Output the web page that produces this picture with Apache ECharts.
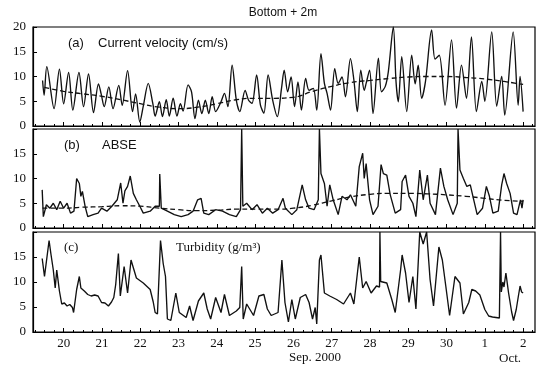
<!DOCTYPE html>
<html><head><meta charset="utf-8">
<script src="https://cdn.jsdelivr.net/npm/echarts@6/dist/echarts.min.js"></script>
<style>html,body{margin:0;padding:0;background:#fff}#c{width:540px;height:375px}</style>
</head><body><div id="c"></div>
<script>
// x values are days of September 2000 (31 = Oct 1, 32 = Oct 2)
const dayTicks = [20,21,22,23,24,25,26,27,28,29,30,31,32];
const yTicks = [0,5,10,15,20];

const velocity = [
[19.45,9.2],[19.49,6.2],[19.56,12.0],[19.75,3.5],[19.89,11.5],[20.0,4.5],[20.13,10.8],[20.24,3.2],[20.4,10.8],[20.52,3.9],[20.65,10.5],[20.78,2.7],[20.91,8.5],[20.98,6.5],[21.06,3.9],[21.18,7.9],[21.29,3.5],[21.44,8.2],[21.53,4.2],[21.67,11.2],[21.8,2.9],[21.88,6.5],[21.99,0.8],[22.08,4.0],[22.21,8.6],[22.33,4.5],[22.39,2.0],[22.5,4.9],[22.58,1.9],[22.68,5.3],[22.76,2.0],[22.86,5.6],[22.96,2.0],[23.05,4.5],[23.12,3.0],[23.25,8.3],[23.34,6.9],[23.43,1.5],[23.52,5.2],[23.61,2.5],[23.7,5.2],[23.79,2.5],[23.88,5.9],[23.97,2.9],[24.11,4.9],[24.2,6.6],[24.29,3.9],[24.4,12.3],[24.51,5.2],[24.6,2.9],[24.74,7.2],[24.83,5.2],[24.92,4.6],[25.04,10.3],[25.14,4.2],[25.23,2.6],[25.34,10.3],[25.46,5.2],[25.58,1.9],[25.69,7.6],[25.76,11.3],[25.85,6.9],[25.94,9.9],[26.03,3.9],[26.12,8.9],[26.21,3.2],[26.32,9.6],[26.41,7.2],[26.52,7.6],[26.61,3.2],[26.72,14.6],[26.81,8.6],[26.88,6.6],[26.97,3.2],[27.08,11.6],[27.17,8.6],[27.27,9.9],[27.36,5.9],[27.49,13.6],[27.58,9.3],[27.67,2.9],[27.76,11.3],[27.85,7.2],[27.9,8.6],[27.99,11.3],[28.08,2.5],[28.22,13.7],[28.3,6.9],[28.4,8.0],[28.48,11.0],[28.61,20.0],[28.68,9.0],[28.74,4.9],[28.83,14.0],[28.96,2.9],[29.09,14.3],[29.18,8.5],[29.22,10.3],[29.26,12.3],[29.35,5.6],[29.45,9.0],[29.61,19.4],[29.7,13.5],[29.81,14.3],[29.96,4.2],[30.13,17.4],[30.26,3.6],[30.39,12.3],[30.52,5.6],[30.65,18.0],[30.78,2.9],[30.92,9.0],[31.0,5.0],[31.18,19.0],[31.31,4.0],[31.44,10.0],[31.52,2.2],[31.74,19.0],[31.87,4.2],[31.92,10.0],[32.0,2.9]
];
const velocityTrend = [
[19.5,7.8],[20,7.0],[20.5,6.5],[21,6.0],[21.5,5.3],[22,4.5],[22.5,3.8],[23,3.5],[23.5,3.8],[24,4.5],[24.5,5.3],[25,5.6],[25.5,5.6],[26,5.8],[26.5,7.0],[27,8.0],[27.5,8.8],[28,9.2],[28.5,9.6],[29,9.9],[29.5,10.0],[30,10.0],[30.5,9.8],[31,9.5],[31.5,9.0],[32,8.4]
];
const abse = [
[19.44,7.7],[19.47,2.3],[19.55,4.7],[19.64,4.0],[19.73,5.0],[19.82,3.7],[19.91,5.4],[20.0,4.0],[20.09,5.0],[20.18,3.0],[20.27,3.4],[20.34,10.0],[20.41,9.0],[20.45,6.4],[20.49,7.4],[20.56,4.4],[20.63,2.3],[20.77,2.7],[20.9,3.0],[20.99,4.0],[21.13,3.4],[21.26,4.4],[21.4,5.7],[21.49,9.1],[21.55,5.0],[21.6,7.5],[21.67,8.4],[21.74,10.5],[21.82,7.0],[21.9,5.7],[21.99,4.4],[22.08,3.0],[22.26,3.4],[22.39,4.4],[22.5,4.4],[22.51,10.9],[22.55,4.0],[22.71,3.4],[22.89,2.7],[23.07,2.3],[23.25,2.7],[23.38,3.4],[23.5,5.7],[23.59,6.0],[23.66,3.0],[23.79,2.7],[23.97,3.7],[24.15,3.4],[24.33,2.7],[24.51,2.3],[24.62,3.7],[24.65,20],[24.68,4.4],[24.78,5.0],[24.92,3.7],[25.05,4.7],[25.19,3.0],[25.32,4.0],[25.46,3.0],[25.6,3.7],[25.73,6.0],[25.79,4.0],[25.96,2.7],[26.09,3.7],[26.23,8.7],[26.32,5.7],[26.41,4.0],[26.54,3.7],[26.65,5.7],[26.68,20],[26.72,11.0],[26.81,9.0],[26.88,4.4],[26.95,8.7],[27.04,5.7],[27.17,2.7],[27.27,6.4],[27.4,5.7],[27.49,6.7],[27.63,4.4],[27.72,12.4],[27.81,15.1],[27.85,10.0],[27.9,13.0],[27.99,5.7],[28.08,2.7],[28.21,4.4],[28.29,12.8],[28.35,11.0],[28.44,10.7],[28.53,6.7],[28.66,3.0],[28.8,3.7],[28.84,9.4],[28.93,10.7],[29.02,6.4],[29.12,5.0],[29.2,2.3],[29.3,11.7],[29.39,5.7],[29.5,10.7],[29.57,5.0],[29.71,2.7],[29.84,12.1],[29.93,8.4],[30.03,5.7],[30.17,2.7],[30.28,5.0],[30.3,20],[30.35,11.7],[30.44,10.0],[30.53,8.4],[30.62,8.7],[30.71,5.7],[30.8,2.7],[30.94,4.0],[31.04,8.4],[31.12,6.4],[31.21,3.0],[31.35,3.4],[31.44,8.7],[31.5,11.0],[31.57,9.0],[31.66,7.0],[31.75,3.0],[31.84,2.7],[31.93,5.7],[31.97,4.0],[32.0,5.7]
];
const abseTrend = [
[19.45,4.0],[20,4.0],[20.5,4.2],[21,4.3],[21.5,4.5],[22,4.4],[22.5,4.0],[23,3.7],[23.5,3.5],[24,3.6],[24.5,3.8],[25,3.8],[25.5,3.8],[26,4.0],[26.5,4.6],[27,5.5],[27.5,6.3],[28,6.8],[28.5,7.0],[29,7.0],[29.5,6.9],[30,6.7],[30.5,6.4],[31,6.0],[31.5,5.6],[32,5.4]
];
const turbidity = [
[19.44,14.7],[19.5,11.1],[19.55,11.0],[19.62,18.3],[19.67,15.5],[19.73,12.4],[19.78,8.8],[19.82,12.4],[19.89,8.2],[19.95,5.6],[20.02,5.8],[20.09,5.2],[20.16,5.5],[20.23,4.9],[20.26,3.9],[20.34,8.5],[20.41,11.1],[20.45,8.8],[20.54,8.2],[20.63,7.5],[20.72,7.2],[20.81,7.4],[20.9,7.2],[20.99,5.9],[21.08,5.8],[21.17,5.2],[21.25,6.0],[21.31,6.9],[21.36,9.5],[21.43,15.7],[21.48,7.2],[21.58,13.1],[21.67,7.8],[21.76,14.4],[21.8,14.0],[21.9,10.8],[22.08,9.8],[22.26,8.5],[22.34,6.0],[22.39,3.9],[22.45,3.6],[22.53,18.3],[22.6,13.7],[22.66,11.1],[22.71,2.6],[22.8,2.3],[22.93,7.8],[23.02,3.9],[23.2,2.9],[23.29,5.2],[23.38,2.3],[23.52,6.2],[23.66,7.8],[23.75,4.6],[23.84,2.6],[23.97,6.9],[24.11,3.9],[24.2,7.5],[24.33,3.3],[24.51,4.2],[24.6,4.9],[24.65,13.1],[24.69,2.6],[24.78,5.6],[24.96,3.3],[25.1,7.2],[25.23,7.5],[25.32,4.6],[25.42,3.3],[25.6,3.9],[25.7,14.4],[25.78,5.9],[25.87,2.0],[25.96,6.5],[26.05,2.6],[26.18,6.9],[26.32,7.5],[26.41,5.9],[26.5,2.6],[26.57,4.9],[26.61,1.6],[26.68,14.4],[26.72,15.4],[26.81,7.8],[26.95,7.2],[27.13,6.5],[27.31,5.6],[27.49,7.8],[27.58,5.6],[27.72,15.0],[27.81,8.8],[27.9,10.1],[28.03,7.8],[28.17,9.2],[28.25,9.0],[28.26,20],[28.28,10.1],[28.44,9.8],[28.57,6.5],[28.66,3.9],[28.8,12.4],[28.84,15.4],[28.93,11.8],[29.02,5.9],[29.12,11.1],[29.2,4.6],[29.3,20],[29.39,17.6],[29.48,20],[29.57,10.5],[29.66,5.2],[29.8,17.0],[29.89,14.4],[29.98,9.2],[30.08,3.3],[30.22,11.1],[30.35,9.8],[30.44,3.6],[30.58,5.9],[30.66,8.5],[30.76,8.2],[30.87,7.4],[31.0,4.5],[31.1,3.2],[31.2,3.0],[31.38,2.8],[31.41,20],[31.43,8.0],[31.47,10.0],[31.5,9.0],[31.55,11.8],[31.62,7.8],[31.7,4.0],[31.75,2.3],[31.82,4.5],[31.87,6.9],[31.92,9.2],[31.96,8.0],[32.0,7.8]
];

const minorTicks = [];
for (let t = 19.25; t <= 32.3; t += 0.25) minorTicks.push(+t.toFixed(2));

const X_MIN = 19.2, X_MAX = 32.31;
const grids = [
  {left:33, right:5, top:27, height:99},
  {left:33, right:5, top:129, height:99},
  {left:33, right:5, top:232, height:100}
];
const serif = 'Liberation Serif';
const ink = '#111';

const xAxes = [], yAxes = [];
grids.forEach((g, i) => {
  g.show = true; g.borderColor = '#000'; g.borderWidth = 1.2;
  xAxes.push({
    gridIndex:i, type:'value', min:X_MIN, max:X_MAX, position:'bottom',
    axisLine:{lineStyle:{color:'#000', width:1.2}},
    axisTick:{inside:true, length:4, customValues:dayTicks, lineStyle:{color:'#000'}},
    axisLabel:{show:i===2, customValues:dayTicks, margin:5, fontFamily:serif, fontSize:13, color:ink,
      formatter:v => String(v > 30 ? v - 30 : v)},
    splitLine:{show:false}
  });
  xAxes.push({
    gridIndex:i, type:'value', min:X_MIN, max:X_MAX, position:'bottom',
    axisLine:{show:false},
    axisTick:{inside:true, length:2, customValues:minorTicks, lineStyle:{color:'#000'}},
    axisLabel:{show:false},
    splitLine:{show:false}
  });
  yAxes.push({
    gridIndex:i, type:'value', min:0, max:20, interval:5,
    axisLine:{show:true, lineStyle:{color:'#000', width:1.2}},
    axisTick:{show:true, inside:true, length:4, lineStyle:{color:'#000'}},
    axisLabel:{margin:7, fontFamily:serif, fontSize:13, color:ink,
      formatter:v => (i > 0 && v === 20) ? '' : String(v)},
    splitLine:{show:false}
  });
});

function line(data, xi, yi, dashed) {
  return {
    type:'line', data, xAxisIndex:xi, yAxisIndex:yi, showSymbol:false, symbol:'none',
    smooth: dashed ? true : (xi === 0 ? 0.3 : false),
    lineStyle:{color:'#111', width: dashed ? 1.3 : 1.35, type: dashed ? [5,3] : 'solid'},
    z: dashed ? 3 : 2, animation:false
  };
}

const chart = echarts.init(document.getElementById('c'), null, {renderer:'canvas'});
chart.setOption({
  backgroundColor:'#fff',
  animation:false,
  grid:grids,
  xAxis:xAxes,
  yAxis:yAxes,
  series:[
    line(velocity, 0, 0, false),
    line(velocityTrend, 0, 0, true),
    line(abse, 2, 1, false),
    line(abseTrend, 2, 1, true),
    line(turbidity, 4, 2, false)
  ],
  graphic:[
    {type:'text', x:283, y:13, style:{text:'Bottom + 2m', font:'12px "Liberation Sans"', fill:ink, textAlign:'center', textVerticalAlign:'middle', align:'center', verticalAlign:'middle'}},
    {type:'text', x:68, y:43, style:{text:'(a)', font:'13px "Liberation Sans"', fill:ink, textVerticalAlign:'middle', verticalAlign:'middle'}},
    {type:'text', x:98, y:43, style:{text:'Current velocity (cm/s)', font:'13px "Liberation Sans"', fill:ink, textVerticalAlign:'middle', verticalAlign:'middle'}},
    {type:'text', x:64, y:145, style:{text:'(b)', font:'13px "Liberation Sans"', fill:ink, textVerticalAlign:'middle', verticalAlign:'middle'}},
    {type:'text', x:102, y:145, style:{text:'ABSE', font:'13px "Liberation Sans"', fill:ink, textVerticalAlign:'middle', verticalAlign:'middle'}},
    {type:'text', x:64, y:248, style:{text:'(c)', font:'13px "Liberation Serif"', fill:ink, textVerticalAlign:'middle', verticalAlign:'middle'}},
    {type:'text', x:176, y:248, style:{text:'Turbidity (g/m³)', font:'13px "Liberation Serif"', fill:ink, textVerticalAlign:'middle', verticalAlign:'middle'}},
    {type:'text', x:315, y:358, style:{text:'Sep. 2000', font:'13px "Liberation Serif"', fill:ink, textAlign:'center', textVerticalAlign:'middle', align:'center', verticalAlign:'middle'}},
    {type:'text', x:510, y:359, style:{text:'Oct.', font:'13px "Liberation Serif"', fill:ink, textAlign:'center', textVerticalAlign:'middle', align:'center', verticalAlign:'middle'}}
  ]
});
</script>
</body></html>
